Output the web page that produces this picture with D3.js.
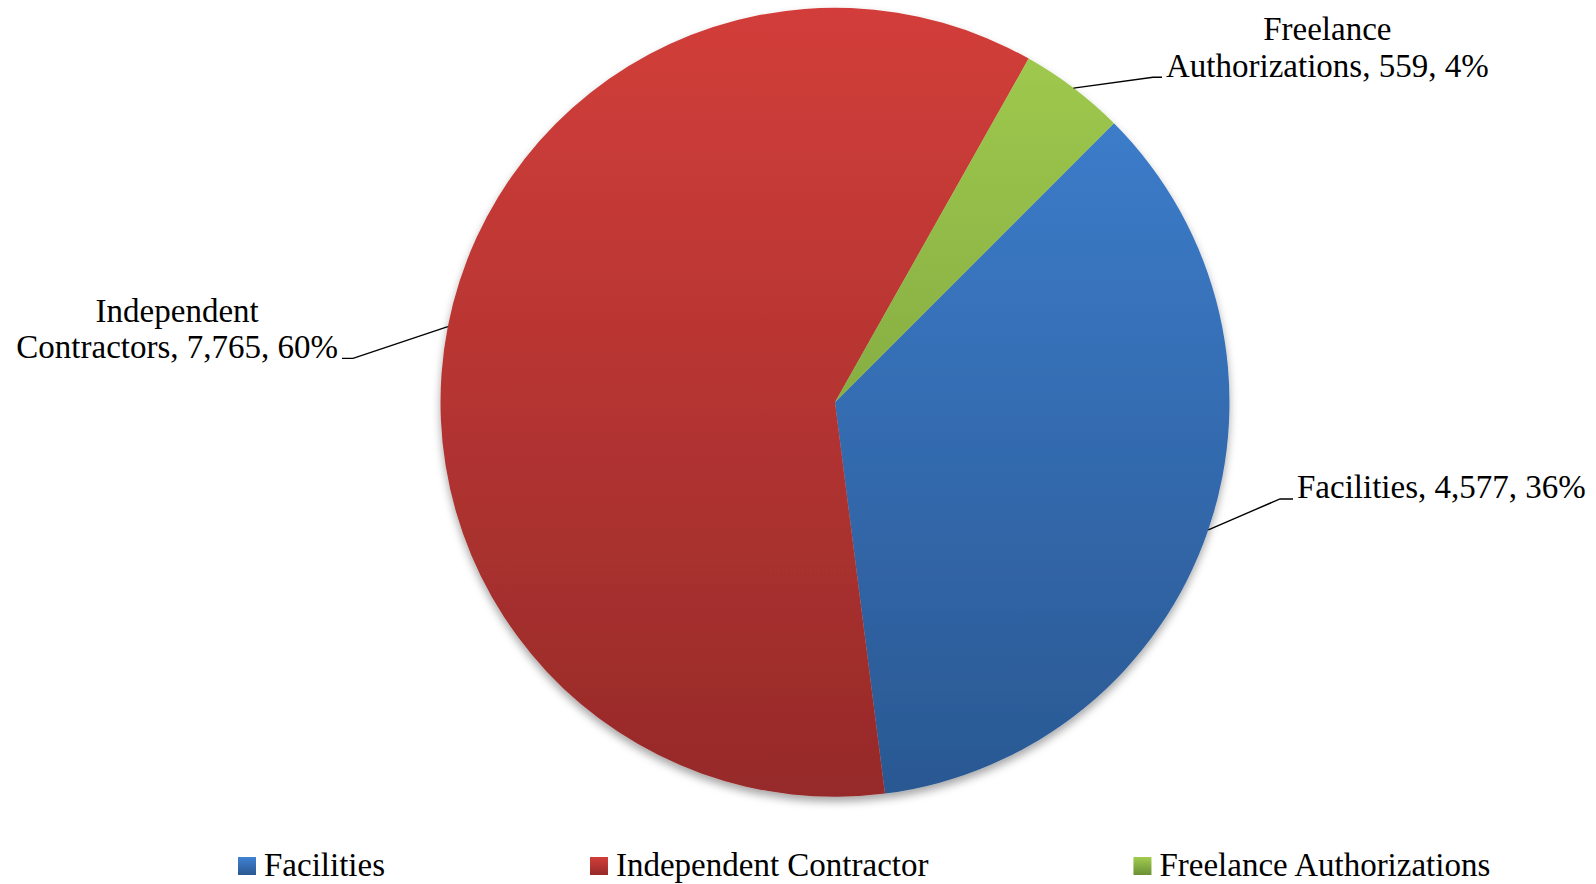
<!DOCTYPE html>
<html>
<head>
<meta charset="utf-8">
<script src="https://cdn.jsdelivr.net/npm/d3@7"></script>
<style>
  html, body { margin: 0; padding: 0; background: #fff; }
  svg { display: block; }
  text { font-family: "Liberation Serif", "Times New Roman", serif; fill: #000; }
</style>
</head>
<body>
<svg id="chart" width="1596" height="884"></svg>
<script>
// ---- data ----
const categories = ["Facilities", "Independent Contractor", "Freelance Authorizations"];
const labelNames = ["Facilities", "Independent Contractors", "Freelance Authorizations"];
const values = [4577, 7765, 559];
const percents = [36, 60, 4];
const colorTop = ["#3f82d3", "#d23e3a", "#a2cc4f"];
const colorBottom = ["#2a5892", "#962a29", "#6a9036"];

// ---- layout ----
const W = 1596, H = 884;
const cx = 835, cy = 402.3, R = 394.5;
const rotation = 45 * Math.PI / 180;
const labelFont = 33, lineGap = 36.3;
// elbow offsets of leader lines relative to the slice's edge midpoint
const leaderOffsets = [[71.7, -30.9], [-94.8, 31.8], [79.5, -10.8]];
const tailLen = [13, 11, 9];

const svg = d3.select("#chart");
const defs = svg.append("defs");

const shadow = defs.append("filter").attr("id", "shadow")
  .attr("x", "-10%").attr("y", "-10%").attr("width", "120%").attr("height", "120%");
shadow.append("feDropShadow").attr("dx", 0).attr("dy", 5).attr("stdDeviation", 4)
  .attr("flood-color", "#000").attr("flood-opacity", 0.35);

categories.forEach((c, i) => {
  const g = defs.append("linearGradient").attr("id", "grad" + i)
    .attr("gradientUnits", "userSpaceOnUse")
    .attr("x1", 0).attr("x2", 0).attr("y1", -R).attr("y2", R);
  g.append("stop").attr("offset", "0%").attr("stop-color", colorTop[i]);
  g.append("stop").attr("offset", "100%").attr("stop-color", colorBottom[i]);
});

const pie = d3.pie().sort(null).value(d => d)
  .startAngle(rotation).endAngle(rotation + 2 * Math.PI);
const arcs = pie(values);
const arc = d3.arc().innerRadius(0).outerRadius(R);
const edgeArc = d3.arc().innerRadius(R).outerRadius(R);

const gPie = svg.append("g").attr("transform", `translate(${cx},${cy})`)
  .attr("filter", "url(#shadow)");
gPie.selectAll("path").data(arcs).join("path")
  .attr("d", arc)
  .attr("fill", (d, i) => `url(#grad${i})`);

// ---- data labels ----
const fmt = d3.format(",");
const gLab = svg.append("g");
arcs.forEach((d, i) => {
  const [ex, ey] = edgeArc.centroid(d);
  const px = cx + ex, py = cy + ey;
  const elx = px + leaderOffsets[i][0], ely = py + leaderOffsets[i][1];
  const right = leaderOffsets[i][0] > 0;
  const endx = elx + (right ? tailLen[i] : -tailLen[i]);
  gLab.append("path")
    .attr("d", `M${px},${py}L${elx},${ely}L${endx},${ely}`)
    .attr("fill", "none").attr("stroke", "#000").attr("stroke-width", 1.4);

  const full = `${labelNames[i]}, ${fmt(values[i])}, ${percents[i]}%`;
  const probe = gLab.append("text").attr("font-size", labelFont).text(full);
  const fullW = probe.node().getComputedTextLength();
  probe.remove();
  let lines = [full];
  if (fullW > 340) {
    const sp = full.indexOf(" ");
    lines = [full.slice(0, sp), full.slice(sp + 1)];
  }
  const widths = lines.map(l => {
    const t = gLab.append("text").attr("font-size", labelFont).text(l);
    const w = t.node().getComputedTextLength(); t.remove(); return w;
  });
  const blockW = d3.max(widths);
  const gap = 4;
  const centerX = right ? endx + gap + blockW / 2 : endx - gap - blockW / 2;
  const lastBase = ely - 0.5;
  lines.forEach((l, k) => {
    gLab.append("text")
      .attr("font-size", labelFont)
      .attr("text-anchor", "middle")
      .attr("x", centerX)
      .attr("y", lastBase - (lines.length - 1 - k) * lineGap)
      .text(l);
  });
});

// ---- legend ----
const legendX0 = 238, legendBase = 876, sq = 18, itemGap = 205;
const gLeg = svg.append("g");
categories.forEach((c, i) => {
  const g = defs.append("linearGradient").attr("id", "lgrad" + i)
    .attr("x1", 0).attr("x2", 0).attr("y1", 0).attr("y2", 1);
  g.append("stop").attr("offset", "0%").attr("stop-color", colorTop[i]);
  g.append("stop").attr("offset", "100%").attr("stop-color", colorBottom[i]);
});
let lx = legendX0;
categories.forEach((c, i) => {
  gLeg.append("rect").attr("x", lx).attr("y", legendBase - 19)
    .attr("width", sq).attr("height", sq).attr("fill", `url(#lgrad${i})`);
  const t = gLeg.append("text").attr("font-size", labelFont)
    .attr("x", lx + sq + 8).attr("y", legendBase).text(c);
  const w = t.node().getComputedTextLength();
  lx = lx + sq + 8 + w + itemGap;
});
</script>
</body>
</html>
